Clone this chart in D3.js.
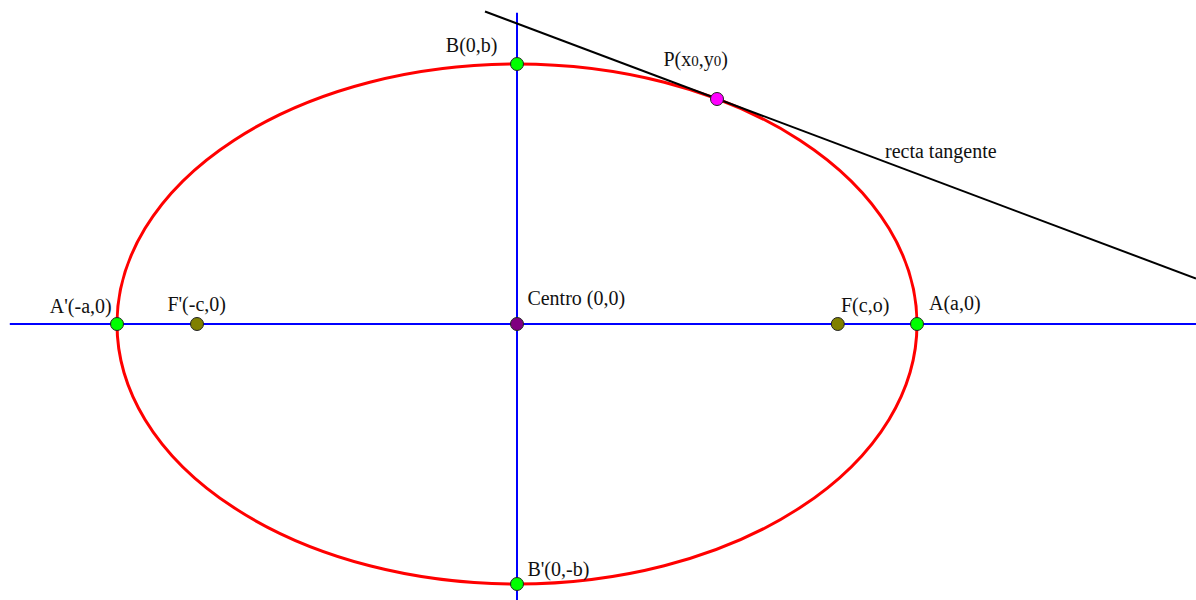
<!DOCTYPE html>
<html>
<head>
<meta charset="utf-8">
<script src="https://cdn.jsdelivr.net/npm/d3@7"></script>
<style>
  body { margin: 0; background: #fff; }
  svg { display: block; }
</style>
</head>
<body>
<div id="chart"></div>
<script>
// semi-ejes de la elipse (unidades del plano)
var semiA = 5;
var semiB = 3.25;

// puntos notables
var pointNames = ["A'", "F'", "C", "F", "A", "B", "B'", "P"];
var pointX = [-5, -4, 0, 4.01, 5, 0, 0, 2.5];
var pointY = [0, 0, 0, 0, 0, 3.25, -3.25, 2.8125];
var pointColors = ["#00ff00", "#808000", "#800080", "#808000", "#00ff00", "#00ff00", "#00ff00", "#ff00ff"];

// etiquetas
var labelText = ["A'(-a,0)", "F'(-c,0)", "Centro (0,0)", "F(c,o)", "A(a,0)", "B(0,b)", "B'(0,-b)", "P(x0,y0)", "recta tangente"];
var labelX = [-5.84, -4.37, 0.13, 4.05, 5.15, -0.89, 0.13, 1.83, 4.6];
var labelY = [0.14, 0.16, 0.24, 0.15, 0.17, 3.4, -3.15, 3.22, 2.08];

// recta tangente por P (extremos)
var tangentX = [-0.4, 8.4875];
var tangentY = [3.906, 0.568];

// ejes
var axisH = [-6.34, 8.4875];
var axisV = [-3.45, 3.89];

var width = 1196;
var height = 600;

var xScale = d3.scaleLinear().domain([-6.4625, 8.4875]).range([0, width]);
var yScale = d3.scaleLinear().domain([-3.45, 4.05]).range([height, 0]);

var svg = d3.select("#chart").append("svg")
    .attr("width", width)
    .attr("height", height);

svg.append("rect").attr("width", width).attr("height", height).attr("fill", "#fff");

// ejes azules
svg.append("line")
    .attr("x1", xScale(axisH[0])).attr("x2", xScale(axisH[1]))
    .attr("y1", yScale(0)).attr("y2", yScale(0))
    .attr("stroke", "#0000ff").attr("stroke-width", 2);

svg.append("line")
    .attr("x1", xScale(0)).attr("x2", xScale(0))
    .attr("y1", yScale(axisV[0])).attr("y2", yScale(axisV[1]))
    .attr("stroke", "#0000ff").attr("stroke-width", 2);

// elipse
svg.append("ellipse")
    .attr("cx", xScale(0))
    .attr("cy", yScale(0))
    .attr("rx", xScale(semiA) - xScale(0))
    .attr("ry", yScale(0) - yScale(semiB))
    .attr("fill", "none")
    .attr("stroke", "#ff0000")
    .attr("stroke-width", 3);

// recta tangente
svg.append("line")
    .attr("x1", xScale(tangentX[0])).attr("y1", yScale(tangentY[0]))
    .attr("x2", xScale(tangentX[1])).attr("y2", yScale(tangentY[1]))
    .attr("stroke", "#000").attr("stroke-width", 2);

// puntos
svg.selectAll("circle.pt")
    .data(pointNames)
    .enter()
    .append("circle")
        .classed("pt", true)
        .attr("cx", function(d, i) { return xScale(pointX[i]); })
        .attr("cy", function(d, i) { return yScale(pointY[i]); })
        .attr("r", 6.5)
        .attr("fill", function(d, i) { return pointColors[i]; })
        .attr("stroke", "#222")
        .attr("stroke-width", 1);

// textos
svg.selectAll("text.lbl")
    .data(labelText)
    .enter()
    .append("text")
        .classed("lbl", true)
        .attr("x", function(d, i) { return xScale(labelX[i]); })
        .attr("y", function(d, i) { return yScale(labelY[i]); })
        .attr("font-family", "'Liberation Serif', 'DejaVu Serif', serif")
        .attr("font-size", "20px")
        .attr("fill", "#111")
        .each(function(d) {
            var t = d3.select(this);
            if (d === "P(x0,y0)") {
                t.append("tspan").text("P(x");
                t.append("tspan").attr("font-size", "15px").text("0");
                t.append("tspan").text(",y");
                t.append("tspan").attr("font-size", "15px").text("0");
                t.append("tspan").text(")");
            } else {
                t.text(d);
            }
        });
</script>
</body>
</html>
